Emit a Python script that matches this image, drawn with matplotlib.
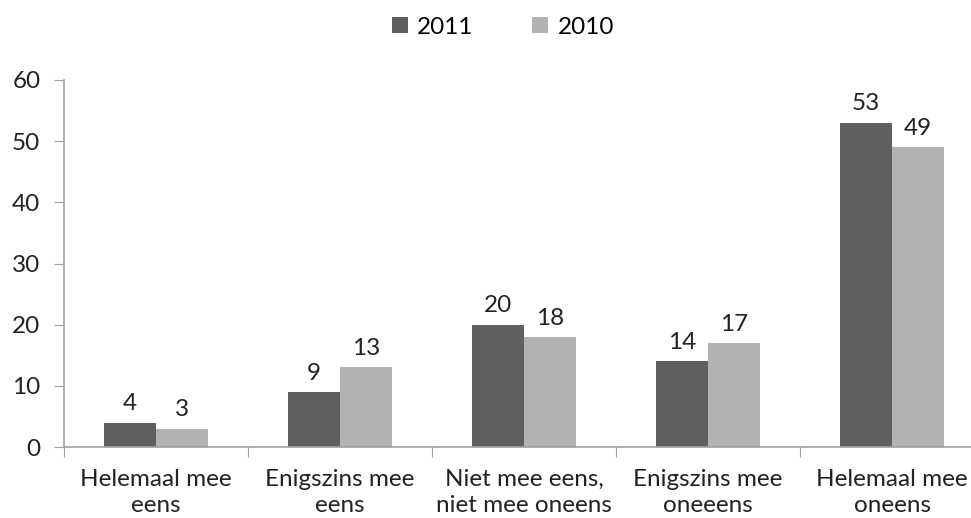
import numpy as np
import matplotlib.pyplot as plt

categories = ["Helemaal mee\neens", "Enigszins mee\neens", "Niet mee eens,\nniet mee oneens",
              "Enigszins mee\noneeens", "Helemaal mee\noneens"]
vals_2011 = [4, 9, 20, 14, 53]
vals_2010 = [3, 13, 18, 17, 49]

plt.rcParams['font.family'] = ['Lato', 'DejaVu Sans']
dark = '#5f5f5f'
light = '#b2b2b2'
axcol = '#a0a0a0'
txt = '#222222'
fs = 17.5

W, H = 971, 518
fig = plt.figure(figsize=(W / 100, H / 100), dpi=100)
# axes runs past the right edge like the original
ax = fig.add_axes([64 / W, 1 - 447 / H, (984 - 64) / W, (447 - 80) / H])

x = np.arange(len(categories))
bw = 0.283
b1 = ax.bar(x - bw / 2, vals_2011, bw, color=dark, label='2011')
b2 = ax.bar(x + bw / 2, vals_2010, bw, color=light, label='2010')

for bars in (b1, b2):
    for b in bars:
        ax.annotate(str(int(b.get_height())), (b.get_x() + b.get_width() / 2, b.get_height()),
                    xytext=(0, 6), textcoords='offset points', ha='center', va='bottom',
                    fontsize=fs, color=txt)

ax.set_xlim(-0.5, len(categories) - 0.5)
ax.set_ylim(0, 60)
ax.set_yticks(range(0, 61, 10))
ax.set_xticks(np.arange(-0.5, len(categories), 1))
ax.set_xticklabels([])
ax.set_xticks(x, minor=True)
ax.set_xticklabels(categories, minor=True, fontsize=fs, color=txt, linespacing=1.3)
ax.tick_params(axis='x', which='minor', length=0, pad=16)
ax.tick_params(axis='x', which='major', length=7, color=axcol, direction='out')
ax.tick_params(axis='y', length=7, color=axcol, labelsize=fs, labelcolor=txt, pad=10)

for s in ('top', 'right'):
    ax.spines[s].set_visible(False)
for s in ('left', 'bottom'):
    ax.spines[s].set_color(axcol)
    ax.spines[s].set_linewidth(1.2)

fig.legend(handles=[b1, b2], loc='center', bbox_to_anchor=(503 / W, 1 - 27 / H), ncol=2,
           frameon=False, fontsize=fs, handlelength=0.65, handleheight=0.65,
           handletextpad=0.4, columnspacing=2.4)

fig.savefig('out.png', dpi=100)
